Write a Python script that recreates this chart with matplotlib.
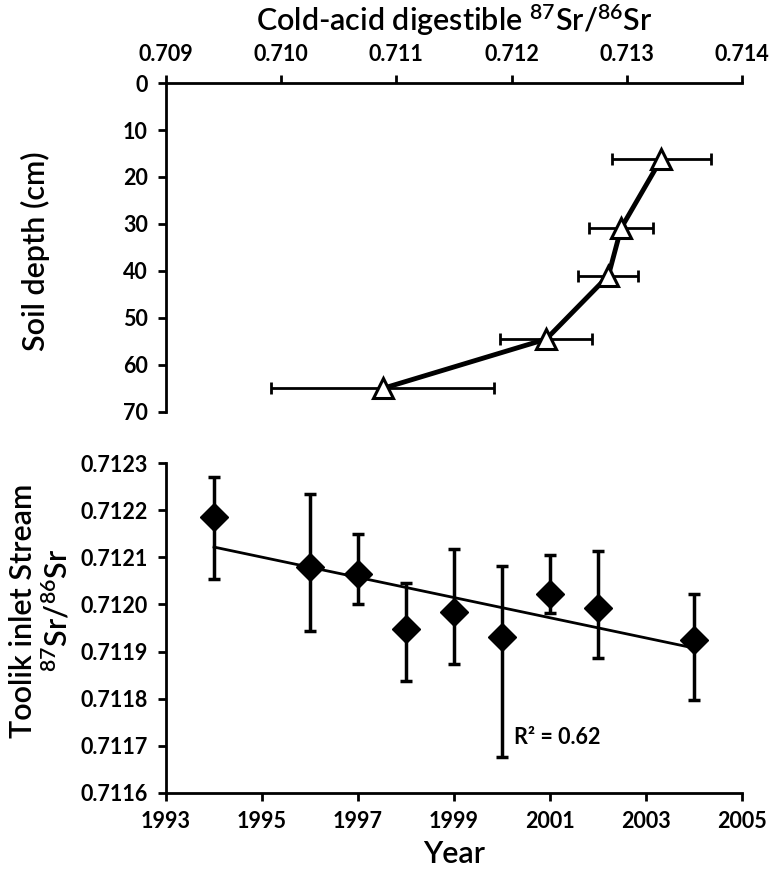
import numpy as np
import matplotlib.pyplot as plt

plt.rcParams['font.family'] = ['Lato', 'DejaVu Sans']
plt.rcParams['mathtext.fontset'] = 'custom'
plt.rcParams['mathtext.rm'] = 'Lato:semibold'
plt.rcParams['mathtext.it'] = 'Lato:semibold'
plt.rcParams['mathtext.bf'] = 'Lato:bold'

# soil profile (top panel)
soil_sr = [0.71330, 0.71295, 0.71284, 0.71230, 0.71088]
soil_sr_err = [0.00043, 0.00028, 0.00026, 0.00040, 0.00097]
soil_depth = [16.1, 30.9, 41.0, 54.5, 65.0]

# stream time series (bottom panel)
years = [1994, 1996, 1997, 1998, 1999, 2000, 2001, 2002, 2004]
stream_sr = [0.712186, 0.712080, 0.712064, 0.711948, 0.711983,
             0.711930, 0.712023, 0.711993, 0.711924]
err_up = [0.000085, 0.000154, 0.000085, 0.000098, 0.000134,
          0.000151, 0.000082, 0.000121, 0.000098]
err_down = [0.000132, 0.000136, 0.000063, 0.000111, 0.000110,
            0.000254, 0.000041, 0.000106, 0.000126]

fig = plt.figure(figsize=(7.74, 8.71), dpi=100)

# top panel
ax1 = fig.add_axes([0.2145, 0.527, 0.7442, 0.3777])
ax1.errorbar(soil_sr, soil_depth, xerr=soil_sr_err,
             fmt='none', ecolor='black', elinewidth=2, capsize=4, capthick=2)
ax1.plot(soil_sr, soil_depth, color='black', linewidth=3.5,
         marker='^', markersize=15, markerfacecolor='white',
         markeredgecolor='black', markeredgewidth=2.2)
ax1.set_xlim(0.709, 0.714)
ax1.set_ylim(70, 0)
ax1.set_xticks(np.arange(0.709, 0.7141, 0.001))
ax1.set_xticklabels(['%.3f' % v for v in np.arange(0.709, 0.7141, 0.001)])
ax1.set_yticks(range(0, 71, 10))
ax1.xaxis.tick_top()
ax1.xaxis.set_label_position('top')
ax1.spines['bottom'].set_visible(False)
ax1.spines['right'].set_visible(False)
ax1.set_xlabel('Cold-acid digestible $^{87}$Sr/$^{86}$Sr', fontsize=22,
               fontweight='semibold', labelpad=9)
ax1.set_ylabel('Soil depth (cm)', fontsize=22, fontweight='semibold')
ax1.yaxis.set_label_coords(-0.201, 0.49)

# bottom panel
ax2 = fig.add_axes([0.2145, 0.0896, 0.7442, 0.3788])
ax2.errorbar(years, stream_sr, yerr=[err_down, err_up],
             fmt='none', ecolor='black', elinewidth=2.5, capsize=4, capthick=2.5)
ax2.plot(years, stream_sr, linestyle='none', marker='D', markersize=14,
         color='black')
slope, intercept = np.polyfit(years, stream_sr, 1)
fit_x = np.array([years[0], years[-1]])
ax2.plot(fit_x, slope * fit_x + intercept, color='black', linewidth=2)
ax2.text(2000.25, 0.711718, 'R² = 0.62', fontsize=15.5, fontweight='bold',
         va='center', ha='left')
ax2.set_xlim(1993, 2005)
ax2.set_ylim(0.7116, 0.7123)
ax2.set_xticks(range(1993, 2006, 2))
yt = np.arange(0.7116, 0.71231, 0.0001)
ax2.set_yticks(yt)
ax2.set_yticklabels(['%.4f' % v for v in yt])
ax2.spines['top'].set_visible(False)
ax2.spines['right'].set_visible(False)
ax2.set_xlabel('Year', fontsize=22, fontweight='semibold', labelpad=6)
ax2.set_ylabel('Toolik inlet Stream\n$^{87}$Sr/$^{86}$Sr', fontsize=22,
               fontweight='semibold', linespacing=1.15)
ax2.yaxis.set_label_coords(-0.163, 0.552)

for ax in (ax1, ax2):
    for s in ax.spines.values():
        s.set_linewidth(2)
    ax.tick_params(width=2, length=6, pad=7, labelsize=15.5)
    for lab in ax.get_xticklabels() + ax.get_yticklabels():
        lab.set_fontweight('bold')

fig.savefig('out.png', dpi=100)
